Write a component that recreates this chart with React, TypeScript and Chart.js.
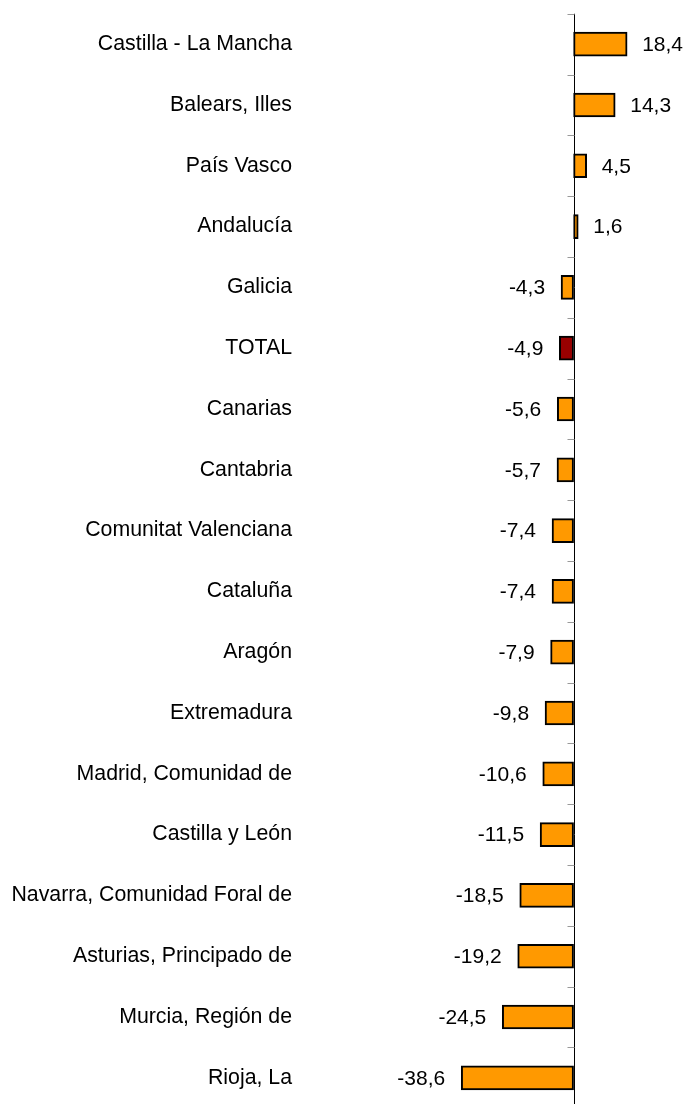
import React, { useEffect, useRef } from "react";
import { Chart, registerables } from "chart.js";

Chart.register(...registerables);

const categories = [
  "Castilla - La Mancha",
  "Balears, Illes",
  "País Vasco",
  "Andalucía",
  "Galicia",
  "TOTAL",
  "Canarias",
  "Cantabria",
  "Comunitat Valenciana",
  "Cataluña",
  "Aragón",
  "Extremadura",
  "Madrid, Comunidad de",
  "Castilla y León",
  "Navarra, Comunidad Foral de",
  "Asturias, Principado de",
  "Murcia, Región de",
  "Rioja, La",
];

const values = [18.4, 14.3, 4.5, 1.6, -4.3, -4.9, -5.6, -5.7, -7.4, -7.4, -7.9, -9.8, -10.6, -11.5, -18.5, -19.2, -24.5, -38.6];

const ORANGE = "#FF9900";
const DARKRED = "#990000";
const FONT = "'Liberation Sans', Arial, sans-serif";

const fmt = (v: number) => v.toFixed(1).replace(".", ",");

const decorPlugin = {
  id: "decor",
  beforeDatasetsDraw(chart: any) {
    const ctx = chart.ctx;
    const xs = chart.scales.x;
    const x0 = Math.round(xs.getPixelForValue(0)) + 0.5;
    const top = chart.chartArea.top;
    const bottom = chart.chartArea.bottom;
    ctx.save();
    ctx.strokeStyle = "#000";
    ctx.lineWidth = 1;
    ctx.beginPath();
    ctx.moveTo(x0, top);
    ctx.lineTo(x0, bottom);
    ctx.stroke();
    const n = categories.length;
    const step = (bottom - top) / n;
    ctx.strokeStyle = "#999";
    for (let k = 0; k <= n; k++) {
      const y = Math.round(top + k * step) + 0.5;
      ctx.beginPath();
      ctx.moveTo(x0 - 7, y);
      ctx.lineTo(x0, y);
      ctx.stroke();
    }
    ctx.restore();
  },
  afterDatasetsDraw(chart: any) {
    const ctx = chart.ctx;
    const meta = chart.getDatasetMeta(0);
    ctx.save();
    ctx.font = `21px ${FONT}`;
    ctx.fillStyle = "#000";
    ctx.textBaseline = "middle";
    meta.data.forEach((bar: any, i: number) => {
      const v = values[i];
      if (v >= 0) {
        ctx.textAlign = "left";
        ctx.fillText(fmt(v), bar.x + 15, bar.y + 1);
      } else {
        ctx.textAlign = "right";
        ctx.fillText(fmt(v), bar.x - 16, bar.y + 1);
      }
    });
    ctx.restore();
  },
};

export default function App() {
  const ref = useRef<HTMLCanvasElement>(null);
  useEffect(() => {
    if (!ref.current) return;
    const chart = new Chart(ref.current, {
      type: "bar",
      data: {
        labels: categories,
        datasets: [
          {
            data: values,
            backgroundColor: categories.map((c) => (c === "TOTAL" ? DARKRED : ORANGE)),
            borderColor: "#000",
            borderWidth: 2,
            borderSkipped: false,
            barThickness: 24,
          },
        ],
      },
      options: {
        indexAxis: "y",
        animation: false,
        responsive: false,
        maintainAspectRatio: false,
        layout: { padding: { top: 13, bottom: 1, left: 0, right: 0 } },
        plugins: { legend: { display: false }, tooltip: { enabled: false } },
        scales: {
          x: { display: false, min: -94, max: 40 },
          y: {
            grid: { display: false, drawTicks: false },
            border: { display: false },
            ticks: { padding: 8, color: "#000", font: { family: FONT, size: 21.3 } },
            afterFit: (s: any) => {
              s.width = 300;
            },
          },
        },
      },
      plugins: [decorPlugin],
    });
    return () => chart.destroy();
  }, []);
  return (
    <div style={{ position: "absolute", left: 0, top: 0, width: 690, height: 1104, overflow: "hidden", background: "#fff" }}>
      <canvas
        ref={ref}
        width={690}
        height={1136}
        style={{ display: "block", width: 690, height: 1136, position: "absolute", left: 0, top: -7 }}
      />
    </div>
  );
}
